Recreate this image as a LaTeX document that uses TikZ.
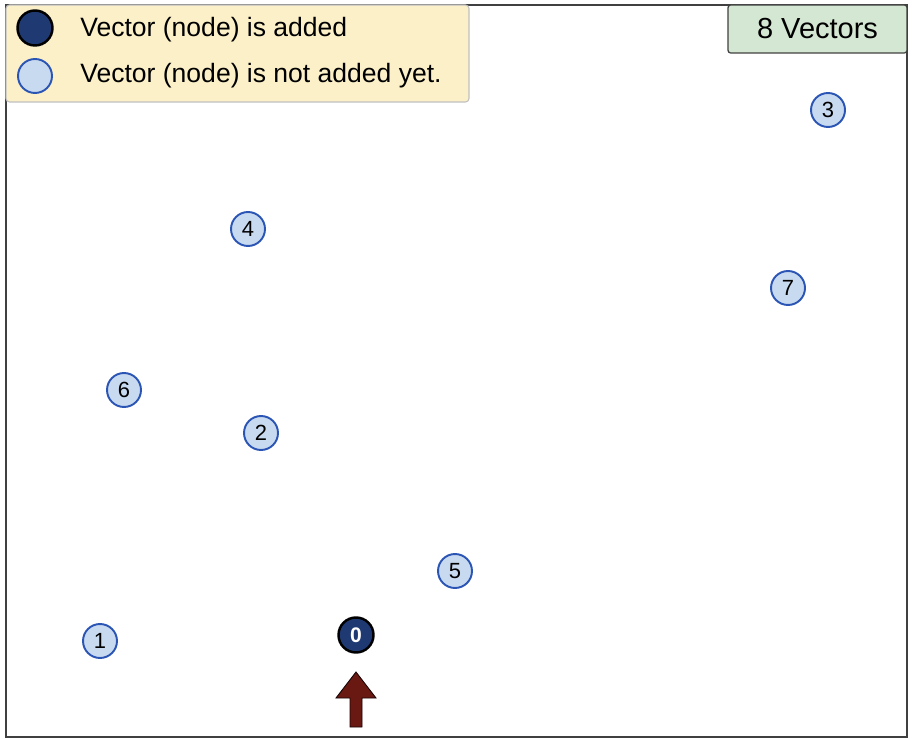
\documentclass[tikz,border=0pt]{standalone}
\usepackage{fontspec}
\setmainfont{Liberation Sans}
\usetikzlibrary{positioning}

\definecolor{addedfill}{HTML}{1F3A73}
\definecolor{waitfill}{HTML}{C8DAF0}
\definecolor{waitline}{HTML}{2B55B5}
\definecolor{legendfill}{HTML}{FCF0C8}
\definecolor{countfill}{HTML}{D4E7D2}
\definecolor{pointerred}{HTML}{6A1812}

\tikzset{
  vec/.style={circle, draw=waitline, line width=1.1pt, fill=waitfill, minimum size=0.68cm, inner sep=0pt, font=\fontsize{12.5}{14}\selectfont},
  vecadded/.style={circle, draw=black, line width=1.4pt, fill=addedfill, minimum size=0.70cm, inner sep=0pt, text=white, font=\fontsize{12}{14}\selectfont\bfseries},
  legendtext/.style={anchor=west, inner sep=0pt, font=\fontsize{15.1}{17}\selectfont}
}

\begin{document}
\begin{tikzpicture}[x=0.02cm, y=-0.02cm]
\useasboundingbox (0,0) rectangle (912,739);
\draw[line width=1.2pt, draw=black!75] (6,5) rectangle (907,737);

% legend
\draw[fill=legendfill, draw=black!25, line width=0.6pt, rounded corners=2pt] (6,5) rectangle (469,102);
\node[vecadded] at (35,28) (keyadded) {};
\node[vec] at (35,76) (keywait) {};
\node[legendtext] at (80,30) (keyaddedtext) {Vector (node) is added};
\node[legendtext] at (80,76) (keywaittext) {Vector (node) is not added yet.};

% counter
\node[draw=black!75, line width=0.7pt, fill=countfill, rounded corners=1.5pt, minimum width=3.58cm, minimum height=0.96cm, font=\fontsize{16.5}{19}\selectfont] at (817.5,29) (count) {8 Vectors};

% vectors
\node[vec] at (828,110) (v3) {3};
\node[vec] at (248,229) (v4) {4};
\node[vec] at (788,288) (v7) {7};
\node[vec] at (124,390) (v6) {6};
\node[vec] at (261,433) (v2) {2};
\node[vec] at (455,571) (v5) {5};
\node[vec] at (100,641) (v1) {1};
\node[vecadded] at (356,635) (v0) {0};

% entry pointer
\coordinate (tip) at (356,672);
\fill[pointerred, draw=black!80!pointerred, line width=0.5pt]
  (tip) -- ++(20,26) -- ++(-14,0) -- ++(0,29) -- ++(-12,0) -- ++(0,-29) -- ++(-14,0) -- cycle;
\end{tikzpicture}
\end{document}
